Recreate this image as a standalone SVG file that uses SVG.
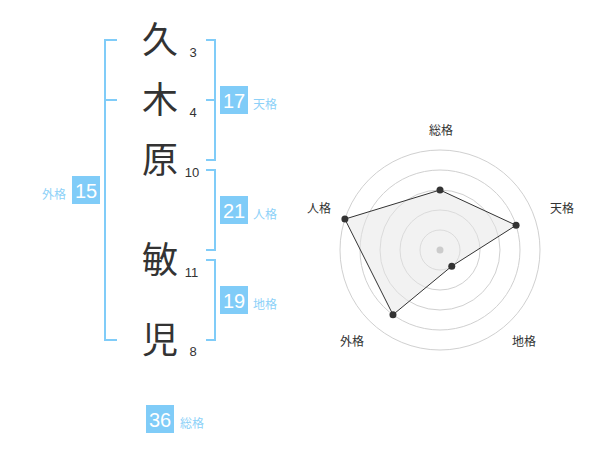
<svg xmlns="http://www.w3.org/2000/svg" width="600" height="470" viewBox="0 0 600 470">
<style>
.kanji{font-family:"Noto Sans CJK JP","Noto Sans CJK SC",sans-serif;font-size:36px;fill:#333;text-anchor:middle}
.num{font-family:"Liberation Sans",Arial,sans-serif;font-size:13px;fill:#333;text-anchor:middle}
.br{fill:none;stroke:#80ccf8;stroke-width:2}
.box{fill:#80ccf8}
.bt{font-family:"Liberation Sans",Arial,sans-serif;font-size:20px;fill:#fff;text-anchor:middle}
.lab{font-family:"Noto Sans CJK JP","Noto Sans CJK SC",sans-serif;font-size:12px;fill:#8dd1f8}
.rl{font-family:"Noto Sans CJK JP","Noto Sans CJK SC",sans-serif;font-size:12px;fill:#333;text-anchor:middle}
.ring{fill:none;stroke:#d0d0d0;stroke-width:1}
.pt{fill:#333}
</style>
<rect width="600" height="470" fill="#fff"/>
<g id="name-chars">
<text class="kanji" x="160" y="53">久</text>
<text class="kanji" x="160" y="113">木</text>
<text class="kanji" x="160" y="173">原</text>
<text class="kanji" x="160" y="273">敏</text>
<text class="kanji" x="160" y="353">児</text>
</g>
<g id="strokes">
<text class="num" x="193" y="57">3</text>
<text class="num" x="193" y="117">4</text>
<text class="num" x="192" y="177">10</text>
<text class="num" x="191.5" y="277">11</text>
<text class="num" x="193" y="356">8</text>
</g>
<g id="connectors">
<path class="br" d="M117,40 H105 V340 H117 M105,100 H117"/>
<path class="br" d="M206,40 H215 V160 H206 M206,100 H215"/>
<path class="br" d="M206,170 H215 V250 H206"/>
<path class="br" d="M206,260 H215 V340 H206"/>
</g>
<g id="tenkaku">
<rect class="box" x="220" y="86" width="28" height="28"/>
<text class="bt" x="234" y="108">17</text>
<text class="lab" x="253" y="109">天格</text>
</g>
<g id="jinkaku">
<rect class="box" x="220" y="196" width="28" height="28"/>
<text class="bt" x="234" y="218">21</text>
<text class="lab" x="253" y="219">人格</text>
</g>
<g id="chikaku">
<rect class="box" x="220" y="286" width="28" height="28"/>
<text class="bt" x="234" y="308">19</text>
<text class="lab" x="253" y="309">地格</text>
</g>
<g id="gaikaku">
<rect class="box" x="72" y="176" width="28" height="28"/>
<text class="bt" x="86" y="198">15</text>
<text class="lab" x="66" y="199" text-anchor="end">外格</text>
</g>
<g id="soukaku">
<rect class="box" x="146" y="405" width="28" height="28"/>
<text class="bt" x="160" y="427">36</text>
<text class="lab" x="180" y="428">総格</text>
</g>
<g id="radar">
<circle class="ring" cx="440" cy="250" r="20"/>
<circle class="ring" cx="440" cy="250" r="40"/>
<circle class="ring" cx="440" cy="250" r="60"/>
<circle class="ring" cx="440" cy="250" r="80"/>
<circle class="ring" cx="440" cy="250" r="100"/>
<polygon points="440,190 516.08,225.28 451.76,266.18 392.98,314.72 344.89,219.1" fill="#e6e6e6" fill-opacity="0.5" stroke="#333" stroke-width="1"/>
<circle cx="440" cy="250" r="3.5" fill="#ccc"/>
<circle class="pt" cx="440" cy="190" r="3.5"/>
<circle class="pt" cx="516.08" cy="225.28" r="3.5"/>
<circle class="pt" cx="451.76" cy="266.18" r="3.5"/>
<circle class="pt" cx="392.98" cy="314.72" r="3.5"/>
<circle class="pt" cx="344.89" cy="219.1" r="3.5"/>
<text class="rl" x="441" y="135">総格</text>
<text class="rl" x="562" y="213">天格</text>
<text class="rl" x="524" y="346">地格</text>
<text class="rl" x="352" y="346">外格</text>
<text class="rl" x="319" y="213">人格</text>
</g>
</svg>
